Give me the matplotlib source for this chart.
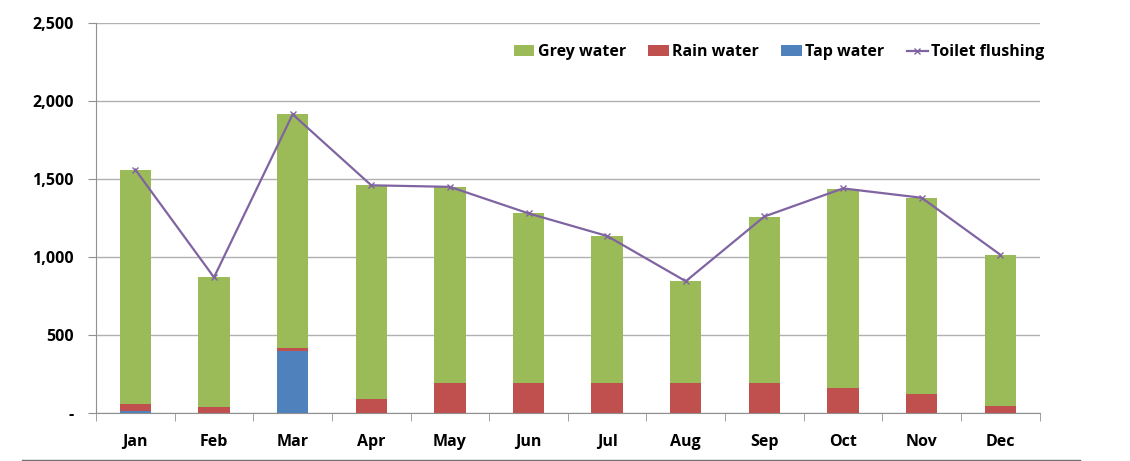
import numpy as np
import matplotlib.pyplot as plt
from matplotlib.lines import Line2D
from matplotlib.ticker import FuncFormatter

# monthly water balance (litres)
months = ['Jan', 'Feb', 'Mar', 'Apr', 'May', 'Jun', 'Jul', 'Aug', 'Sep', 'Oct', 'Nov', 'Dec']
tap_water = [13, 0, 400, 0, 0, 0, 0, 0, 0, 0, 0, 0]
rain_water = [43, 42, 15, 90, 192, 195, 195, 195, 195, 160, 125, 47]
grey_water = [1500, 830, 1500, 1370, 1258, 1085, 938, 650, 1063, 1278, 1252, 968]
toilet_flushing = [1560, 870, 1915, 1460, 1450, 1280, 1135, 845, 1260, 1440, 1380, 1015]

green = '#9BBB59'
red = '#C0504D'
blue = '#4F81BD'
purple = '#8064A2'

plt.rcParams['font.family'] = ['Open Sans', 'DejaVu Sans']

fig = plt.figure(figsize=(11.3, 4.61), dpi=100)
ax = fig.add_axes([0.085, 0.104, 0.835, 0.846])

x = np.arange(len(months))
w = 0.4
tap = np.array(tap_water)
rain = np.array(rain_water)
grey = np.array(grey_water)

ax.bar(x, tap, w, color=blue, label='Tap water', zorder=2)
ax.bar(x, rain, w, bottom=tap, color=red, label='Rain water', zorder=2)
ax.bar(x, grey, w, bottom=tap + rain, color=green, label='Grey water', zorder=2)
ax.plot(x, toilet_flushing, color=purple, lw=1.6, marker='x', ms=5, mew=1,
        label='Toilet flushing', zorder=3)

ax.set_xlim(-0.5, len(months) - 0.5)
ax.set_ylim(0, 2500)
ax.set_yticks(np.arange(0, 2501, 500))
ax.yaxis.set_major_formatter(FuncFormatter(lambda v, p: '-' if v == 0 else f'{int(v):,}'))
ax.grid(axis='y', color='#b0b0b0', lw=1, zorder=0)
ax.set_axisbelow(True)

ax.set_xticks(x)
ax.set_xticklabels(months)
ax.set_xticks(np.arange(-0.5, len(months), 1), minor=True)
ax.tick_params(axis='x', which='major', length=0, pad=15)
ax.tick_params(axis='x', which='minor', length=6, color='#909090', direction='out')
ax.tick_params(axis='y', length=6, color='#909090', pad=10)
for lab in ax.get_xticklabels() + ax.get_yticklabels():
    lab.set_fontweight('bold')
    lab.set_fontsize(11.5)

for s in ['top', 'right']:
    ax.spines[s].set_visible(False)
for s in ['left', 'bottom']:
    ax.spines[s].set_color('#909090')

handles, labels = ax.get_legend_handles_labels()
order = [3, 2, 1, 0]
ax.legend([handles[i] for i in order], [labels[i] for i in order], ncol=4, frameon=False,
          loc='center right', bbox_to_anchor=(1.02, 0.925), prop={'weight': 'bold', 'size': 11.5},
          handlelength=1.3, handletextpad=0.2, columnspacing=1.4)

fig.add_artist(Line2D([22 / 1130, 1080 / 1130], [1.5 / 461, 1.5 / 461],
                      transform=fig.transFigure, color='#707070', lw=1))

fig.savefig('out.png', dpi=100)
